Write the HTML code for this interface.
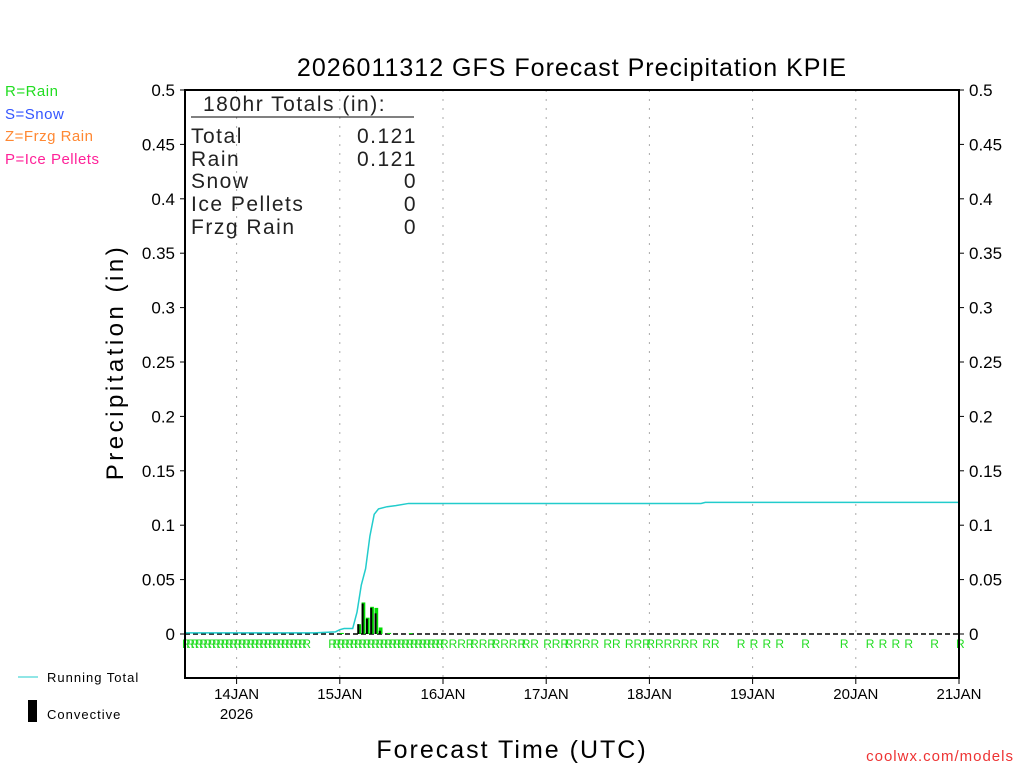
<!DOCTYPE html>
<html><head><meta charset="utf-8"><style>
html,body{margin:0;padding:0;background:#fff;}
svg{display:block;font-family:"Liberation Sans",sans-serif;}
</style></head><body>
<svg id="chart" width="1024" height="768" viewBox="0 0 1024 768" xmlns="http://www.w3.org/2000/svg">
<text x="572" y="76" font-size="25" text-anchor="middle" fill="#000" letter-spacing="1">2026011312 GFS Forecast Precipitation KPIE</text>
<g font-size="15" letter-spacing="0.5">
<text x="5" y="96" fill="#22dd22">R=Rain</text>
<text x="5" y="119" fill="#3355ff">S=Snow</text>
<text x="5" y="141" fill="#ff8833">Z=Frzg Rain</text>
<text x="5" y="164" fill="#ff2299">P=Ice Pellets</text>
</g>
<text transform="translate(123,362) rotate(-90)" font-size="24" text-anchor="middle" letter-spacing="3.5">Precipitation (in)</text>
<text x="512" y="758" font-size="25" text-anchor="middle" letter-spacing="2">Forecast Time (UTC)</text>
<text x="1014" y="761" font-size="15" text-anchor="end" fill="#ee3333" letter-spacing="1">coolwx.com/models</text>
<g>
<line x1="18" y1="677" x2="38" y2="677" stroke="#22cccc" stroke-width="1"/>
<text x="47" y="682" font-size="13" letter-spacing="1">Running Total</text>
<rect x="28" y="700" width="9" height="22" fill="#000"/>
<text x="47" y="719" font-size="13" letter-spacing="1">Convective</text>
</g>
<g id="grid"></g>
<g id="marks"></g>
<g id="axes"></g>
<g font-size="21" fill="#222" font-weight="300" letter-spacing="1.5">
<text x="203" y="111">180hr Totals (in):</text>
<line x1="191" y1="117" x2="414" y2="117" stroke="#000" stroke-width="1"/>
<text x="191" y="143">Total</text>
<text x="417" y="143" text-anchor="end">0.121</text>
<text x="191" y="166">Rain</text>
<text x="417" y="166" text-anchor="end">0.121</text>
<text x="191" y="188">Snow</text>
<text x="417" y="188" text-anchor="end">0</text>
<text x="191" y="211">Ice Pellets</text>
<text x="417" y="211" text-anchor="end">0</text>
<text x="191" y="234">Frzg Rain</text>
<text x="417" y="234" text-anchor="end">0</text>
</g>
</svg>
<script>
const yTicks = [0,0.05,0.1,0.15,0.2,0.25,0.3,0.35,0.4,0.45,0.5];
const yTickLabels = ["0","0.05","0.1","0.15","0.2","0.25","0.3","0.35","0.4","0.45","0.5"];
const dayHours = [12,36,60,84,108,132,156,180];
const dayLabels = ["14JAN","15JAN","16JAN","17JAN","18JAN","19JAN","20JAN","21JAN"];
const totalHours = [0,30,35,36,37,39,40,41,42,43,44,45,47,49,52,60,120,121,180];
const totalValues = [0.001,0.001,0.002,0.004,0.005,0.005,0.02,0.045,0.06,0.09,0.11,0.115,0.117,0.118,0.12,0.12,0.12,0.121,0.121];
const barHours = [36,40,41,42,43,44,45,47,52];
const barTotal = [0.001,0.009,0.029,0.015,0.025,0.024,0.006,0.001,0.0008];
const barConv = [0,0.009,0.028,0.014,0.024,0.019,0.003,0,0];
const rainHours = [0,1,2,3,4,5,6,7,8,9,10,11,12,13,14,15,16,17,18,19,20,21,22,23,24,25,26,27,28,
 34,35,36,37,38,39,40,41,42,43,44,45,46,47,48,49,50,51,52,53,54,55,56,57,58,59,60,62,64,66,
 67,69,71,72,74,76,78,79,81,84,86,88,89,91,93,95,98,100,103,105,107,108,110,112,114,116,118,121,
 123,129,132,135,138,144,153,159,162,165,168,174,180];

const NS="http://www.w3.org/2000/svg";
const X0=185,X1=959,Y0=634,Ytop=90,Ybot=678;
const xs=h=>X0+(X1-X0)*h/180;
const ys=v=>Y0-(Y0-Ytop)*v/0.5;
function mk(tag,attrs,parent){const e=document.createElementNS(NS,tag);for(const k in attrs)e.setAttribute(k,attrs[k]);parent.appendChild(e);return e;}
const grid=document.getElementById('grid'),marks=document.getElementById('marks'),axes=document.getElementById('axes');

dayHours.forEach((h,i)=>{
  const g=mk('line',{x1:xs(h),x2:xs(h),y1:Ytop,y2:Ybot,stroke:'#aaa','stroke-width':1,'stroke-dasharray':'2,7'},grid);
  
  
  const t=mk('line',{x1:xs(h),x2:xs(h),y1:Ybot,y2:Ybot+6,stroke:'#000','stroke-width':1},axes);
  
  
  const l=mk('text',{x:xs(h),y:Ybot+21,'font-size':15,'text-anchor':'middle'},axes);
  l.textContent=dayLabels[i];
  
  
});
const yr=mk('text',{x:xs(12),y:Ybot+41,'font-size':15,'text-anchor':'middle'},axes);
yr.textContent='2026';



const zl=mk('line',{x1:X0,x2:X1,y1:Y0,y2:Y0,stroke:'#000','stroke-width':1.5,'stroke-dasharray':'5,3'},grid);



yTicks.forEach((v,i)=>{
  [[X0,X0-5,X0-10,'end'],[X1,X1+5,X1+10,'start']].forEach(s=>{
    const t=mk('line',{x1:s[0],x2:s[1],y1:ys(v),y2:ys(v),stroke:'#000','stroke-width':1},axes);
    
    
    const l=mk('text',{x:s[2],y:ys(v)+6,'font-size':17,'text-anchor':s[3]},axes);
    l.textContent=yTickLabels[i];
    
    
  });
});

barHours.forEach((h,i)=>{
  const x=xs(h)+0.3,w=xs(h+1)-xs(h)-0.6;
  const b=mk('rect',{x:x,y:ys(barTotal[i]),width:w,height:Y0-ys(barTotal[i]),fill:'#00dd00'},marks);
  
  
  if(barConv[i]>0){
    const c=mk('rect',{x:x,y:ys(barConv[i]),width:w*0.55,height:Y0-ys(barConv[i]),fill:'#000'},marks);
    
    
  }
});

const pl=mk('polyline',{points:totalHours.map((h,i)=>xs(h)+','+ys(totalValues[i])).join(' '),fill:'none',stroke:'#22cccc','stroke-width':1.5},marks);



rainHours.forEach(h=>{
  const t=mk('text',{x:xs(h)-3,y:Y0+14,'font-size':12,fill:'#22dd22'},marks);
  t.textContent='R';
  
  
});

const fr=mk('path',{d:`M${X0},${Ybot} L${X0},${Ytop} L${X1},${Ytop} L${X1},${Ybot} Z`,fill:'none',stroke:'#000','stroke-width':2},axes);


</script>
</body></html>
